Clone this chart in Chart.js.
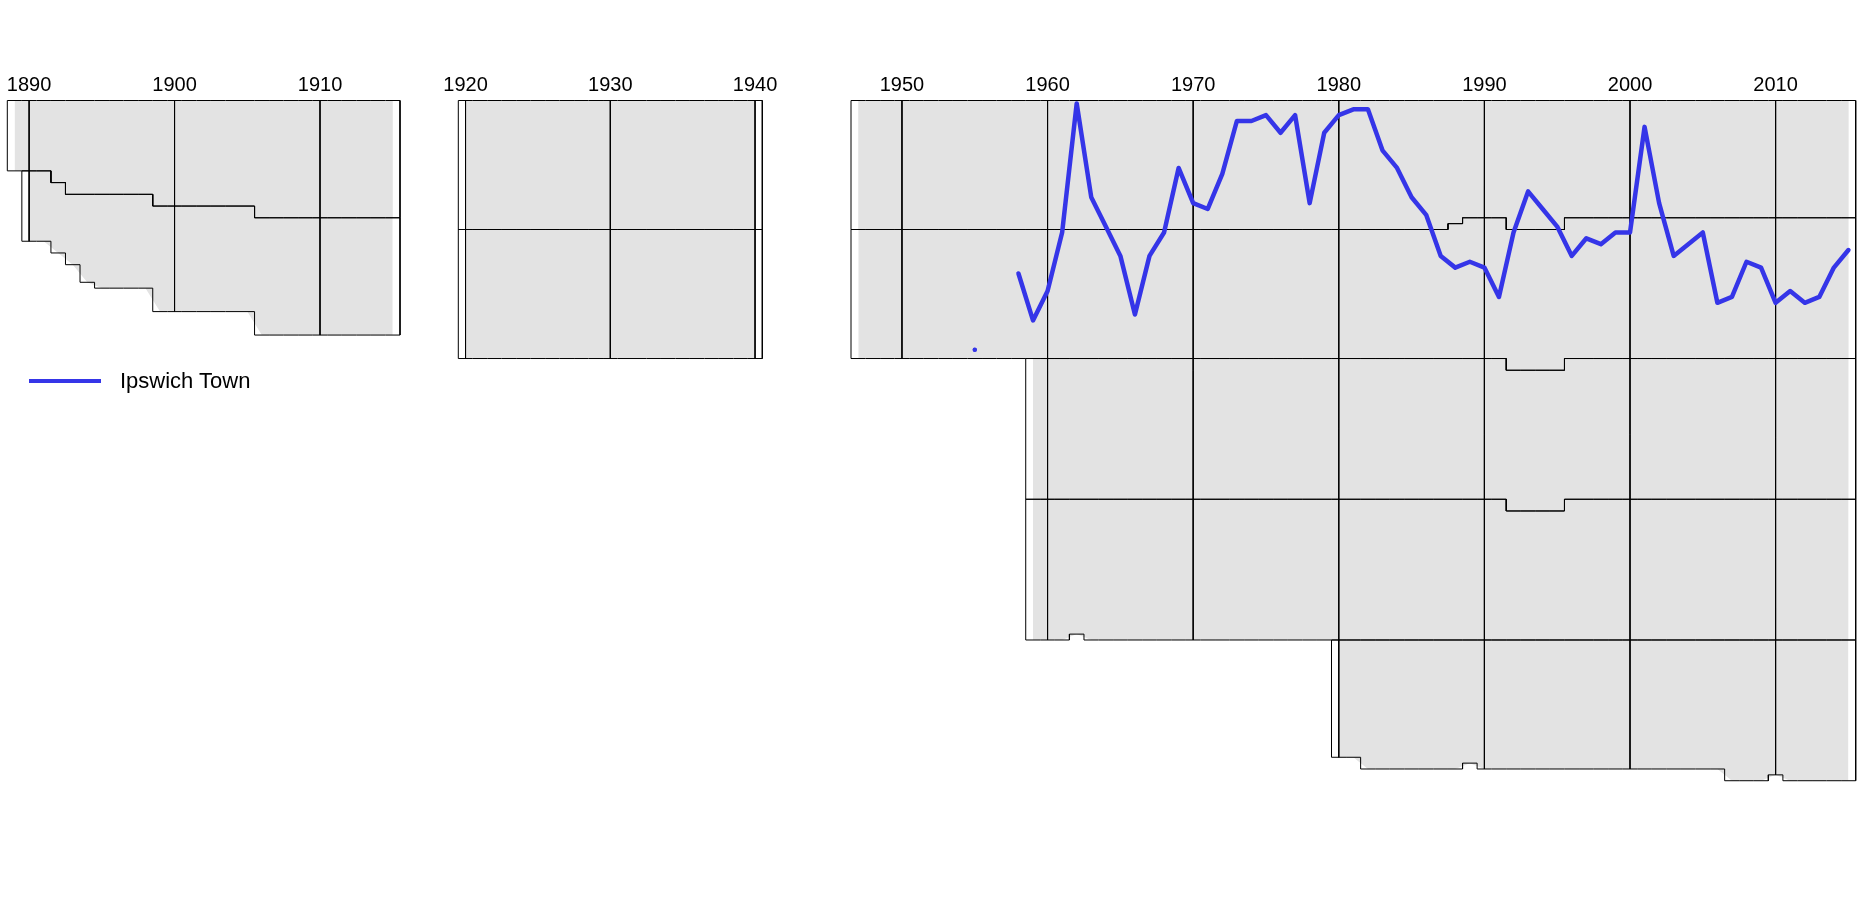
<!DOCTYPE html>
<html>
<head>
<meta charset="utf-8">
<script src="https://cdn.jsdelivr.net/npm/chart.js@4/dist/chart.umd.min.js"></script>
<style>
  body { margin: 0; background: #fff; width: 1864px; height: 901px; overflow: hidden; position: relative;
         font-family: "Liberation Sans", Arial, sans-serif; }
  canvas { position: absolute; top: 0; }
  #legend { position: absolute; left: 29px; top: 368px; height: 26px; display: flex; align-items: center; }
  #legend .swatch { width: 72px; height: 4px; background: #3535e8; margin-right: 19px; }
  #legend .label { font-size: 22px; color: #000; }
</style>
</head>
<body>
<canvas id="p1" width="430" height="901" style="left:0px"></canvas>
<canvas id="p2" width="350" height="901" style="left:440px"></canvas>
<canvas id="p3" width="1034" height="901" style="left:830px"></canvas>
<div id="legend"><div class="swatch"></div><div class="label">Ipswich Town</div></div>
<script>
// season end years, and number of clubs in each tier that season (null = tier not shown)
const p1Years = [1889, 1890, 1891, 1892, 1893, 1894, 1895, 1896, 1897, 1898, 1899, 1900, 1901, 1902,
                 1903, 1904, 1905, 1906, 1907, 1908, 1909, 1910, 1911, 1912, 1913, 1914, 1915];
const p1Tier1 = [12, 12, 12, 14, 16, 16, 16, 16, 16, 16, 18, 18, 18, 18, 18, 18, 18, 20, 20, 20, 20, 20, 20, 20, 20, 20, 20];
const p1Tier2 = [null, 12, 12, 12, 12, 15, 16, 16, 16, 16, 18, 18, 18, 18, 18, 18, 18, 20, 20, 20, 20, 20, 20, 20, 20, 20, 20];

const p2Years = [1920, 1921, 1922, 1923, 1924, 1925, 1926, 1927, 1928, 1929, 1930, 1931, 1932, 1933,
                 1934, 1935, 1936, 1937, 1938, 1939, 1940];
const p2Tier1 = [22, 22, 22, 22, 22, 22, 22, 22, 22, 22, 22, 22, 22, 22, 22, 22, 22, 22, 22, 22, 22];
const p2Tier2 = [22, 22, 22, 22, 22, 22, 22, 22, 22, 22, 22, 22, 22, 22, 22, 22, 22, 22, 22, 22, 22];

const p3Years = [1947, 1948, 1949, 1950, 1951, 1952, 1953, 1954, 1955, 1956, 1957, 1958, 1959, 1960,
                 1961, 1962, 1963, 1964, 1965, 1966, 1967, 1968, 1969, 1970, 1971, 1972, 1973, 1974,
                 1975, 1976, 1977, 1978, 1979, 1980, 1981, 1982, 1983, 1984, 1985, 1986, 1987, 1988,
                 1989, 1990, 1991, 1992, 1993, 1994, 1995, 1996, 1997, 1998, 1999, 2000, 2001, 2002,
                 2003, 2004, 2005, 2006, 2007, 2008, 2009, 2010, 2011, 2012, 2013, 2014, 2015];
const p3Tier1 = [22, 22, 22, 22, 22, 22, 22, 22, 22, 22, 22, 22, 22, 22,
                 22, 22, 22, 22, 22, 22, 22, 22, 22, 22, 22, 22, 22, 22,
                 22, 22, 22, 22, 22, 22, 22, 22, 22, 22, 22, 22, 22, 21,
                 20, 20, 20, 22, 22, 22, 22, 20, 20, 20, 20, 20, 20, 20,
                 20, 20, 20, 20, 20, 20, 20, 20, 20, 20, 20, 20, 20];
const p3Tier2 = [22, 22, 22, 22, 22, 22, 22, 22, 22, 22, 22, 22, 22, 22,
                 22, 22, 22, 22, 22, 22, 22, 22, 22, 22, 22, 22, 22, 22,
                 22, 22, 22, 22, 22, 22, 22, 22, 22, 22, 22, 22, 22, 23,
                 24, 24, 24, 24, 24, 24, 24, 24, 24, 24, 24, 24, 24, 24,
                 24, 24, 24, 24, 24, 24, 24, 24, 24, 24, 24, 24, 24];
const p3Tier3 = [null, null, null, null, null, null, null, null, null, null, null, null, 24, 24,
                 24, 24, 24, 24, 24, 24, 24, 24, 24, 24, 24, 24, 24, 24,
                 24, 24, 24, 24, 24, 24, 24, 24, 24, 24, 24, 24, 24, 24,
                 24, 24, 24, 24, 24, 24, 24, 24, 24, 24, 24, 24, 24, 24,
                 24, 24, 24, 24, 24, 24, 24, 24, 24, 24, 24, 24, 24];
const p3Tier4 = [null, null, null, null, null, null, null, null, null, null, null, null, 24, 24,
                 24, 23, 24, 24, 24, 24, 24, 24, 24, 24, 24, 24, 24, 24,
                 24, 24, 24, 24, 24, 24, 24, 24, 24, 24, 24, 24, 24, 24,
                 24, 24, 24, 22, 22, 22, 22, 24, 24, 24, 24, 24, 24, 24,
                 24, 24, 24, 24, 24, 24, 24, 24, 24, 24, 24, 24, 24];
const p3Tier5 = [null, null, null, null, null, null, null, null, null, null, null, null, null, null,
                 null, null, null, null, null, null, null, null, null, null, null, null, null, null,
                 null, null, null, null, null, 20, 20, 22, 22, 22, 22, 22, 22, 22,
                 21, 22, 22, 22, 22, 22, 22, 22, 22, 22, 22, 22, 22, 22,
                 22, 22, 22, 22, 24, 24, 24, 23, 24, 24, 24, 24, 24];

const p1Ticks = [1890, 1900, 1910];
const p2Ticks = [1920, 1930, 1940];
const p3Ticks = [1950, 1960, 1970, 1980, 1990, 2000, 2010];

// Ipswich Town: overall league position (counting down through the tiers)
const ipswichYears = [1955, 1958, 1959, 1960, 1961, 1962, 1963, 1964, 1965, 1966, 1967, 1968, 1969, 1970,
                      1971, 1972, 1973, 1974, 1975, 1976, 1977, 1978, 1979, 1980, 1981, 1982, 1983, 1984,
                      1985, 1986, 1987, 1988, 1989, 1990, 1991, 1992, 1993, 1994, 1995, 1996, 1997, 1998,
                      1999, 2000, 2001, 2002, 2003, 2004, 2005, 2006, 2007, 2008, 2009, 2010, 2011, 2012,
                      2013, 2014, 2015];
const ipswichRanks = [43, 30, 38, 33, 23, 1, 17, 22, 27, 37, 27, 23, 12, 18,
                      19, 13, 4, 4, 3, 6, 3, 18, 6, 3, 2, 2, 9, 12,
                      17, 20, 27, 29, 28, 29, 34, 23, 16, 19, 22, 27, 24, 25,
                      23, 23, 5, 18, 27, 25, 23, 35, 34, 28, 29, 35, 33, 35,
                      34, 29, 26];

const GREY = '#e3e3e3';
const BLUE = '#3535e8';
const Y_MIN = 0.5, Y_MAX = 131.5;

Chart.defaults.font.family = '"Liberation Sans", Arial, sans-serif';

function cumulative(tiers) {
  // running total of clubs down to the bottom of each tier
  return tiers.map((tier, k) => tier.map((v, i) => {
    if (v == null) return null;
    let s = 0;
    for (let j = 0; j <= k; j++) s += tiers[j][i] || 0;
    return s;
  }));
}

function buildDatasets(years, tiers) {
  const cum = cumulative(tiers);
  const fills = [], outlines = [];
  cum.forEach((c, k) => {
    const idx = years.map((y, i) => i).filter(i => c[i] != null);
    // grey band, from season centre to season centre
    fills.push({
      data: idx.map(i => ({ x: years[i], y: c[i] + 0.5 })),
      fill: { value: Y_MIN }, backgroundColor: GREY, borderWidth: 0, pointRadius: 0, order: 3
    });
    // black outline of the tier, stepped at the season edges
    const pts = [];
    idx.forEach(i => {
      const top = (k === 0 ? 0 : cum[k - 1][i]) + 0.5;
      pts.push({ x: years[i] - 0.5, y: top }, { x: years[i] + 0.5, y: top });
    });
    idx.slice().reverse().forEach(i => {
      pts.push({ x: years[i] + 0.5, y: c[i] + 0.5 }, { x: years[i] - 0.5, y: c[i] + 0.5 });
    });
    pts.push(pts[0]);
    outlines.push({
      data: pts, borderColor: '#000', borderWidth: 1, pointRadius: 0, fill: false, clip: false, order: 2
    });
  });
  return { fills, outlines, cum };
}

function gridLines(years, cum, ticks) {
  return ticks.map(t => {
    const i = years.indexOf(t);
    let total = 0;
    cum.forEach(c => { if (c[i] != null) total = Math.max(total, c[i]); });
    return {
      data: [{ x: t, y: Y_MIN }, { x: t, y: total + 0.5 }],
      borderColor: '#000', borderWidth: 1, pointRadius: 0, fill: false, clip: false, order: 2
    };
  });
}

function makePanel(id, years, tiers, ticks, xMin, xMax, padLeft, padRight, extra) {
  const { fills, outlines, cum } = buildDatasets(years, tiers);
  const datasets = [...fills, ...outlines, ...gridLines(years, cum, ticks), ...(extra || [])];
  return new Chart(document.getElementById(id), {
    type: 'line',
    data: { datasets },
    options: {
      responsive: false,
      animation: false,
      events: [],
      layout: { padding: { top: 60.5, bottom: 901 - 100.5 - (Y_MAX - Y_MIN) * 5.864, left: padLeft, right: padRight } },
      elements: { line: { tension: 0 } },
      plugins: { legend: { display: false }, tooltip: { enabled: false } },
      scales: {
        x: {
          type: 'linear', position: 'top', min: xMin, max: xMax,
          afterBuildTicks: s => { s.ticks = ticks.map(v => ({ value: v })); },
          afterFit: s => { s.height = 40; },
          grid: { display: false }, border: { display: false },
          ticks: { color: '#000', font: { size: 20 }, padding: -5, maxRotation: 0, autoSkip: false,
                   callback: v => String(v) }
        },
        y: { type: 'linear', reverse: true, min: Y_MIN, max: Y_MAX, display: false }
      }
    }
  });
}

// Ipswich line, broken where the club was outside the charted tiers
const ipswichData = [];
ipswichYears.forEach((yr, i) => {
  if (i > 0 && yr - ipswichYears[i - 1] > 1) ipswichData.push({ x: yr - 1, y: null });
  ipswichData.push({ x: yr, y: ipswichRanks[i] });
});
const ipswich = {
  label: 'Ipswich Town',
  data: ipswichData,
  borderColor: BLUE, backgroundColor: BLUE, borderWidth: 4.5,
  borderJoinStyle: 'round', borderCapStyle: 'round',
  spanGaps: false, fill: false, clip: false, order: 1,
  pointBorderWidth: 0,
  pointRadius: ctx => {
    const d = ctx.dataset.data, i = ctx.dataIndex;
    const prev = d[i - 1], next = d[i + 1];
    return (!prev || prev.y == null) && (!next || next.y == null) ? 2 : 0;
  }
};

makePanel('p1', p1Years, [p1Tier1, p1Tier2], p1Ticks, 1888.5, 1915.5, 7.3, 30);
makePanel('p2', p2Years, [p2Tier1, p2Tier2], p2Ticks, 1919.5, 1940.5, 18.3, 27.7);
makePanel('p3', p3Years, [p3Tier1, p3Tier2, p3Tier3, p3Tier4, p3Tier5], p3Ticks, 1946.5, 2015.5, 21, 8.3, [ipswich]);
</script>
</body>
</html>
